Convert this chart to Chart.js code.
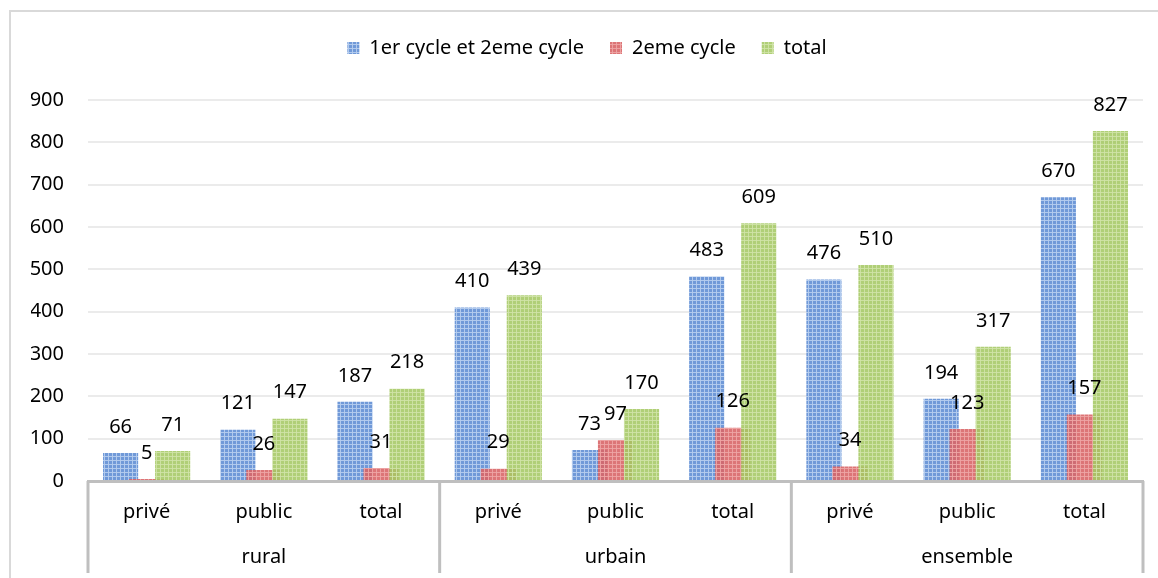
<!DOCTYPE html>
<html>
<head>
<meta charset="utf-8">
<script src="https://cdn.jsdelivr.net/npm/chart.js@4/dist/chart.umd.min.js"></script>
<style>
  body { margin: 0; background: #fff; }
  #wrap { width: 1158px; height: 578px; }
</style>
</head>
<body>
<div id="wrap"><canvas id="myChart" width="1158" height="578"></canvas></div>
<script>
'use strict';
// data
let subLabels = ['privé', 'public', 'total', 'privé', 'public', 'total', 'privé', 'public', 'total'];
let groupLabels = ['rural', 'urbain', 'ensemble'];
let seriesNames = ['1er cycle et 2eme cycle', '2eme cycle', 'total'];
let cycle12 = [66, 121, 187, 410, 73, 483, 476, 194, 670];
let cycle2 = [5, 26, 31, 29, 97, 126, 34, 123, 157];
let totals = [71, 147, 218, 439, 170, 609, 510, 317, 827];
let yTicks = [0, 100, 200, 300, 400, 500, 600, 700, 800, 900];

let fontName = '"Noto Sans", "Open Sans", sans-serif';
let fontSize = 20;

// small dotted texture like the office fill
function makePattern(base, dot) {
  let c = document.createElement('canvas');
  c.width = 4; c.height = 4;
  let g = c.getContext('2d');
  g.fillStyle = base;
  g.fillRect(0, 0, 4, 4);
  g.fillStyle = dot;
  g.fillRect(0, 0, 4, 1);
  g.fillRect(0, 0, 1, 4);
  return g.createPattern(c, 'repeat');
}
let ctx = document.getElementById('myChart').getContext('2d');
let bluePat = makePattern('rgba(104,148,214,0.95)', 'rgba(180,204,238,0.95)');
let redPat = makePattern('rgba(216,102,104,0.9)', 'rgba(238,165,165,0.9)');
let greenPat = makePattern('rgba(165,200,100,0.88)', 'rgba(208,228,168,0.88)');

// blue under red under green, then the value labels
let drawBars = {
  id: 'drawBars',
  beforeInit(chart) {
    // leave room between legend and plot like the original
    let fit = chart.legend.fit;
    chart.legend.fit = function () {
      fit.call(this);
      this.height += 32;
    };
  },
  beforeDatasetsDraw(chart) {
    let c = chart.ctx;
    for (let i = 0; i < chart.data.datasets.length; i++) {
      chart.getDatasetMeta(i).controller.draw();
    }
    c.save();
    c.font = fontSize + 'px ' + fontName;
    c.fillStyle = '#000';
    c.textAlign = 'center';
    c.textBaseline = 'middle';
    for (let i = 0; i < chart.data.datasets.length; i++) {
      let meta = chart.getDatasetMeta(i);
      meta.data.forEach((bar, j) => {
        c.fillText(String(chart.data.datasets[i].data[j]), bar.x, bar.y - 26);
      });
    }
    c.restore();
    return false;
  },
  beforeDraw(chart) {
    let c = chart.ctx;
    c.save();
    c.strokeStyle = '#d9d9d9';
    c.lineWidth = 2;
    c.beginPath();
    c.moveTo(10, 578);
    c.lineTo(10, 11);
    c.lineTo(1158, 11);
    c.stroke();
    c.restore();
  },
  afterDraw(chart) {
    let x = chart.scales.x;
    let c = chart.ctx;
    let top = chart.chartArea.bottom;
    let edges = [x.left];
    for (let k = 3; k < subLabels.length; k += 3) {
      edges.push((x.getPixelForTick(k - 1) + x.getPixelForTick(k)) / 2);
    }
    edges.push(x.right);
    c.save();
    c.strokeStyle = '#bfbfbf';
    c.lineWidth = 3;
    edges.forEach(e => {
      c.beginPath();
      c.moveTo(e, top);
      c.lineTo(e, 573);
      c.stroke();
    });
    c.restore();
  }
};

new Chart(ctx, {
  type: 'bar',
  data: {
    labels: subLabels,
    datasets: [
      { label: seriesNames[0], data: cycle12, backgroundColor: bluePat },
      { label: seriesNames[1], data: cycle2, backgroundColor: redPat },
      { label: seriesNames[2], data: totals, backgroundColor: greenPat }
    ]
  },
  options: {
    responsive: false,
    animation: false,
    devicePixelRatio: 1,
    layout: { padding: { top: 12, left: 31, right: 15, bottom: 10 } },
    datasets: { bar: { categoryPercentage: 0.666, barPercentage: 1.35, borderWidth: 0 } },
    plugins: {
      legend: {
        position: 'top',
        labels: {
          boxWidth: 12, boxHeight: 12, padding: 26,
          color: '#000',
          font: { family: fontName, size: fontSize }
        }
      },
      tooltip: { enabled: false }
    },
    scales: {
      x: {
        grid: { display: false, drawTicks: false },
        border: { color: '#bfbfbf', width: 3 },
        ticks: { color: '#000', padding: 19, maxRotation: 0, font: { family: fontName, size: fontSize } },
        afterFit(s) { s.height = 44; }
      },
      x2: {
        type: 'category',
        labels: groupLabels,
        position: 'bottom',
        grid: { display: false, drawTicks: false },
        border: { display: false },
        ticks: { color: '#000', padding: 20, font: { family: fontName, size: fontSize } },
        afterFit(s) { s.height = 43; }
      },
      y: {
        min: 0,
        max: 900,
        afterBuildTicks(scale) { scale.ticks = yTicks.map(v => ({ value: v })); },
        grid: { color: '#ebebeb', lineWidth: 2, drawTicks: false },
        border: { display: false },
        ticks: { color: '#000', padding: 24, font: { family: fontName, size: fontSize } },
        afterFit(s) { s.width = 57; }
      }
    }
  },
  plugins: [drawBars]
});
</script>
</body>
</html>
